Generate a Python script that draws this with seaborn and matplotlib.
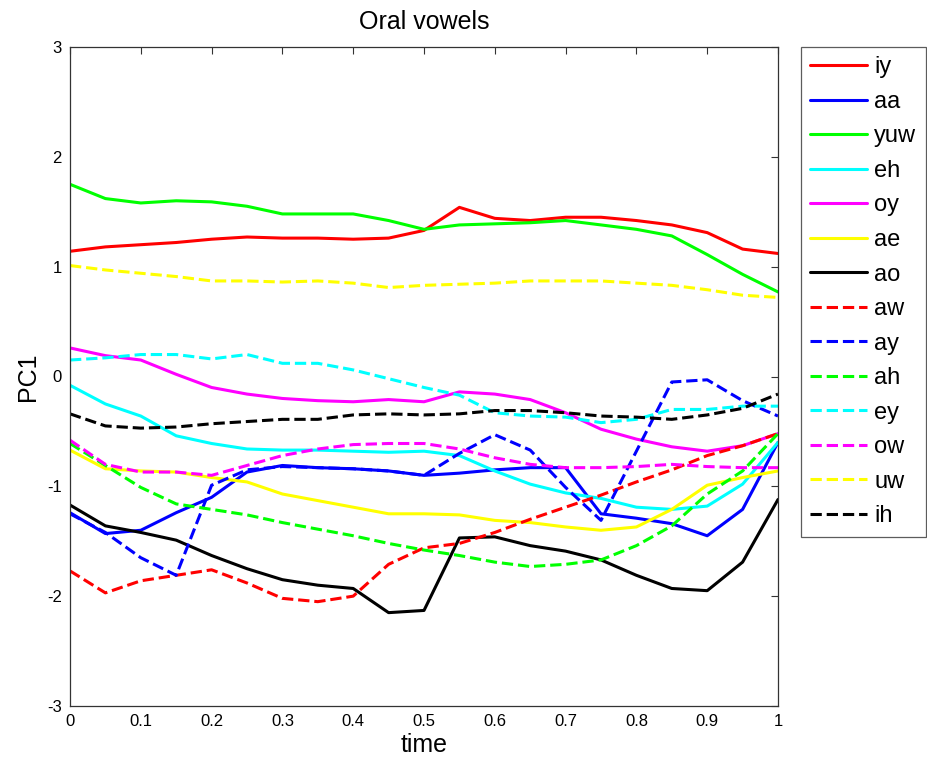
import numpy as np
import pandas as pd
import matplotlib
matplotlib.use("Agg")
import matplotlib.pyplot as plt
import seaborn as sns

# Sampled time axis (21 frames from 0 to 1)
time = [round(0.05 * i, 2) for i in range(21)]

# First principal component trajectories for each oral vowel
iy = [1.14, 1.18, 1.20, 1.22, 1.25, 1.27, 1.26, 1.26, 1.25, 1.26, 1.33,
      1.54, 1.44, 1.42, 1.45, 1.45, 1.42, 1.38, 1.31, 1.16, 1.12]
aa = [-1.24, -1.43, -1.40, -1.24, -1.10, -0.87, -0.81, -0.83, -0.84, -0.86, -0.90,
      -0.88, -0.85, -0.83, -0.83, -1.25, -1.29, -1.34, -1.45, -1.21, -0.60]
yuw = [1.75, 1.62, 1.58, 1.60, 1.59, 1.55, 1.48, 1.48, 1.48, 1.42, 1.34,
       1.38, 1.39, 1.40, 1.42, 1.38, 1.34, 1.28, 1.11, 0.93, 0.77]
eh = [-0.08, -0.25, -0.36, -0.54, -0.61, -0.66, -0.67, -0.67, -0.68, -0.69, -0.68,
      -0.72, -0.86, -0.98, -1.06, -1.11, -1.19, -1.21, -1.18, -0.98, -0.60]
oy = [0.26, 0.19, 0.15, 0.02, -0.10, -0.16, -0.20, -0.22, -0.23, -0.21, -0.23,
      -0.14, -0.16, -0.21, -0.33, -0.48, -0.57, -0.64, -0.68, -0.63, -0.52]
ae = [-0.67, -0.84, -0.86, -0.87, -0.92, -0.96, -1.07, -1.13, -1.19, -1.25, -1.25,
      -1.26, -1.31, -1.33, -1.37, -1.40, -1.37, -1.21, -0.99, -0.92, -0.86]
ao = [-1.17, -1.36, -1.42, -1.49, -1.63, -1.75, -1.85, -1.90, -1.93, -2.15, -2.13,
      -1.47, -1.46, -1.54, -1.59, -1.67, -1.81, -1.93, -1.95, -1.69, -1.12]
aw = [-1.77, -1.97, -1.86, -1.81, -1.76, -1.88, -2.02, -2.05, -2.00, -1.71, -1.56,
      -1.52, -1.42, -1.30, -1.19, -1.08, -0.96, -0.85, -0.72, -0.63, -0.52]
ay = [-1.25, -1.42, -1.65, -1.81, -0.99, -0.85, -0.82, -0.83, -0.84, -0.86, -0.90,
      -0.70, -0.53, -0.67, -1.01, -1.31, -0.68, -0.05, -0.03, -0.22, -0.36]
ah = [-0.61, -0.81, -1.01, -1.16, -1.21, -1.26, -1.33, -1.39, -1.45, -1.52, -1.58,
      -1.63, -1.69, -1.73, -1.71, -1.67, -1.54, -1.36, -1.07, -0.86, -0.52]
ey = [0.15, 0.17, 0.20, 0.20, 0.16, 0.20, 0.12, 0.12, 0.06, -0.02, -0.10,
      -0.17, -0.33, -0.36, -0.37, -0.42, -0.39, -0.30, -0.30, -0.27, -0.27]
ow = [-0.58, -0.80, -0.87, -0.87, -0.90, -0.81, -0.72, -0.66, -0.62, -0.61, -0.61,
      -0.66, -0.74, -0.80, -0.83, -0.83, -0.82, -0.80, -0.82, -0.83, -0.83]
uw = [1.01, 0.97, 0.94, 0.91, 0.87, 0.87, 0.86, 0.87, 0.85, 0.81, 0.83,
      0.84, 0.85, 0.87, 0.87, 0.87, 0.85, 0.83, 0.79, 0.74, 0.72]
ih = [-0.34, -0.45, -0.47, -0.46, -0.43, -0.41, -0.39, -0.39, -0.35, -0.34, -0.35,
      -0.34, -0.31, -0.31, -0.33, -0.36, -0.37, -0.39, -0.35, -0.29, -0.16]

vowels = ["iy", "aa", "yuw", "eh", "oy", "ae", "ao",
          "aw", "ay", "ah", "ey", "ow", "uw", "ih"]
series = [iy, aa, yuw, eh, oy, ae, ao, aw, ay, ah, ey, ow, uw, ih]
colors = ["#ff0000", "#0000ff", "#00ff00", "#00ffff", "#ff00ff", "#ffff00", "#000000"] * 2
styles = ["-"] * 7 + ["--"] * 7

x_ticks = [0, 0.1, 0.2, 0.3, 0.4, 0.5, 0.6, 0.7, 0.8, 0.9, 1]
x_tick_labels = ["0", "0.1", "0.2", "0.3", "0.4", "0.5", "0.6", "0.7", "0.8", "0.9", "1"]
y_ticks = [-3, -2, -1, 0, 1, 2, 3]

sns.set_style("white")
plt.rcParams["font.family"] = ["Liberation Sans", "DejaVu Sans"]
plt.rcParams["axes.unicode_minus"] = False
plt.rcParams["text.color"] = "black"
plt.rcParams["axes.labelcolor"] = "black"

fig = plt.figure(figsize=(9.28, 7.7), dpi=100)
ax = fig.add_axes([70 / 928, 64 / 770, 708 / 928, 659 / 770])

df = pd.DataFrame({"time": time})
for name, vals, col, ls in zip(vowels, series, colors, styles):
    df[name] = vals
    sns.lineplot(data=df, x="time", y=name, color=col, linestyle=ls,
                 linewidth=2.2, label=name, ax=ax)

ax.set_xlim(0, 1)
ax.set_ylim(-3, 3)
ax.set_xticks(x_ticks)
ax.set_xticklabels(x_tick_labels)
ax.set_yticks(y_ticks)
ax.tick_params(direction="in", top=True, right=True, length=5, width=0.8,
               labelsize=12, colors="#333333", labelcolor="black", pad=6)
for sp in ax.spines.values():
    sp.set_color("#333333")
    sp.set_linewidth(0.9)

ax.set_title("Oral vowels", fontsize=18, pad=13, color="black")
ax.set_xlabel("time", fontsize=18, labelpad=3)
ax.set_ylabel("PC1", fontsize=18, labelpad=5)

leg = ax.legend(loc="upper left", bbox_to_anchor=(731 / 708, 1.0), borderaxespad=0,
                fontsize=17, handlelength=2.4, labelspacing=0.53, handletextpad=0.3,
                frameon=True, fancybox=False, borderpad=0.4)
leg.get_frame().set_edgecolor("#333333")
leg.get_frame().set_linewidth(0.9)
for t in leg.get_texts():
    t.set_color("black")

fig.savefig("out.png", dpi=100)
